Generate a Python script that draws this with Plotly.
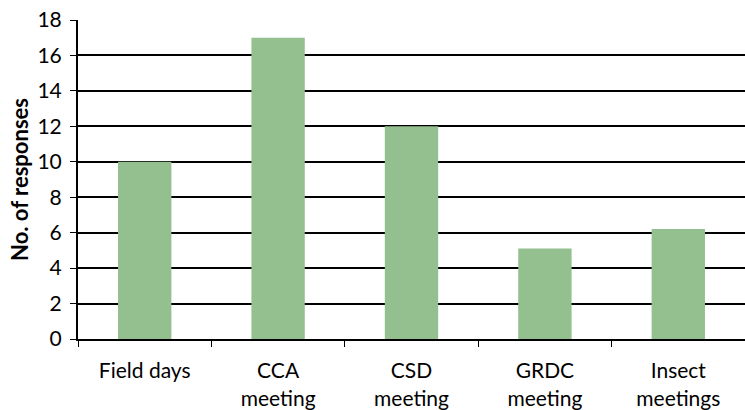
import plotly.graph_objects as go

categories = ["Field days", "CCA<br>meeting", "CSD<br>meeting", "GRDC<br>meeting", "Insect<br>meetings"]
responses = [10, 17, 12, 5.1, 6.2]
y_ticks = [0, 2, 4, 6, 8, 10, 12, 14, 16, 18]

fig = go.Figure()
fig.add_trace(go.Bar(
    x=categories, y=responses,
    marker=dict(color="rgb(148,191,143)", line=dict(width=0)),
))

fig.update_layout(
    width=745, height=410,
    margin=dict(l=78, r=0, t=20, b=71),
    paper_bgcolor="white", plot_bgcolor="white",
    bargap=0.6,
    showlegend=False,
    font=dict(family="Lato, 'Open Sans', sans-serif", color="black"),
)
fig.update_xaxes(
    showline=True, linecolor="black", linewidth=2,
    ticks="outside", ticklen=6, tickcolor="black", tickwidth=1,
    tickson="boundaries",
    tickfont=dict(size=21),
    ticklabelstandoff=12,
    range=[-0.5, 4.5],
    automargin=False,
)
fig.update_yaxes(
    range=[0, 18], tickvals=y_ticks,
    showline=True, linecolor="black", linewidth=2,
    showgrid=True, gridcolor="black", gridwidth=1.5,
    ticks="outside", ticklen=6, tickcolor="black",
    tickfont=dict(size=21),
    ticklabelstandoff=4,
    zeroline=False,
    automargin=False,
    title=dict(text="<b>No. of responses</b>", font=dict(size=22), standoff=3),
)

# remove the browser's default 8px body margin so the figure sits at the page origin
fig.write_html(
    "out.html",
    config={"displayModeBar": False},
    post_script="document.body.style.margin='0';document.body.style.overflow='hidden';",
)
